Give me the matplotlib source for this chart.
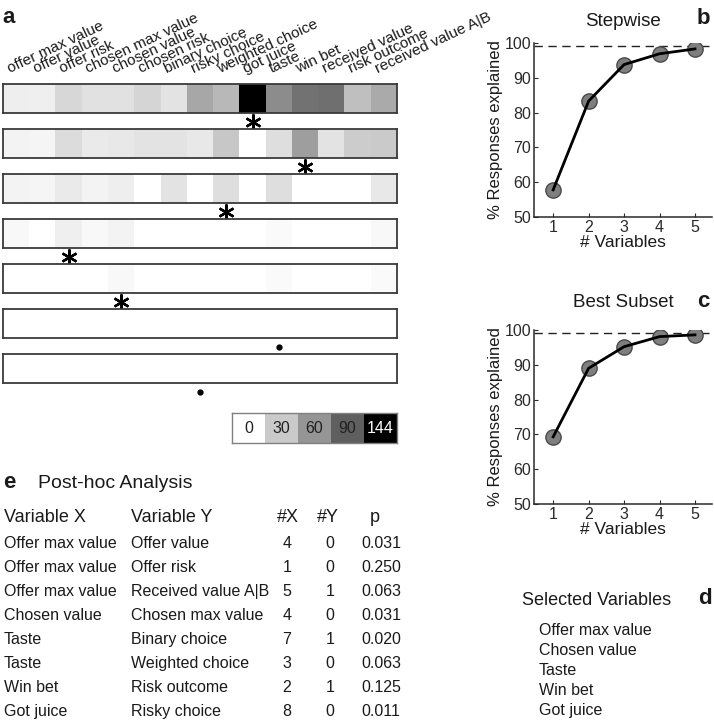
import matplotlib
matplotlib.use("Agg")
import matplotlib.pyplot as plt
import numpy as np

plt.rcParams['font.family'] = ['Liberation Sans', 'DejaVu Sans']

# ---------------- data ----------------
variables = ["offer max value", "offer value", "offer risk", "chosen max value",
             "chosen value", "chosen risk", "binary choice", "risky choice",
             "weighted choice", "got juice", "taste", "win bet",
             "received value", "risk outcome", "received value A|B"]

heat_row1 = [10, 9, 23, 17, 17, 24, 16, 50, 40, 144, 65, 79, 81, 36, 48]
heat_row2 = [7, 6, 20, 12, 13, 16, 16, 13, 32, 0, 19, 55, 16, 29, 30]
heat_row3 = [7, 6, 12, 7, 10, 0, 16, 0, 19, 0, 19, 0, 0, 0, 13]
heat_row4 = [4, 0, 9, 4, 7, 0, 0, 0, 0, 0, 3, 0, 0, 0, 4]
heat_row5 = [0, 0, 0, 0, 4, 0, 0, 0, 0, 0, 3, 0, 0, 0, 3]
heat_row6 = [0] * 15
heat_row7 = [0] * 15
heat_rows = [heat_row1, heat_row2, heat_row3, heat_row4, heat_row5, heat_row6, heat_row7]

# column index of the marker under each row; '*' = asterisk, '.' = dot
mark_cols = [9, 11, 8, 2, 4, 10, 7]
mark_types = ['*', '*', '*', '*', '*', '.', '.']

cbar_values = [0, 30, 60, 90, 144]

n_vars = [1, 2, 3, 4, 5]
stepwise = [57.8, 83.3, 93.8, 96.9, 98.3]
best_subset = [69.3, 89.0, 95.2, 98.1, 98.6]
ceiling = 99

selected = ["Offer max value", "Chosen value", "Taste", "Win bet", "Got juice"]

post_var_x = ["Offer max value", "Offer max value", "Offer max value", "Chosen value",
              "Taste", "Taste", "Win bet", "Got juice"]
post_var_y = ["Offer value", "Offer risk", "Received value A|B", "Chosen max value",
              "Binary choice", "Weighted choice", "Risk outcome", "Risky choice"]
post_nx = [4, 1, 5, 4, 7, 3, 2, 8]
post_ny = [0, 0, 1, 0, 1, 0, 1, 0]
post_p = ["0.031", "0.250", "0.063", "0.031", "0.020", "0.063", "0.125", "0.011"]

# ---------------- figure ----------------
W, H = 714, 720
fig = plt.figure(figsize=(W / 100, H / 100), dpi=100)

def add_ax(x0, y0, w, h):
    return fig.add_axes([x0 / W, 1 - (y0 + h) / H, w / W, h / H])

def ftext(x, y, s, **kw):
    return fig.text(x / W, 1 - y / H, s, **kw)

TXT = '#1a1a1a'

# ---- panel a: heat rows ----
row_x0, row_w = 3, 394
row_y0, row_h, row_dy = 84, 29, 45
for i, vals in enumerate(heat_rows):
    ax = add_ax(row_x0, row_y0 + i * row_dy, row_w, row_h)
    ax.imshow(np.array([vals]), cmap='gray_r', vmin=0, vmax=144, aspect='auto',
              interpolation='nearest')
    ax.set_xticks([])
    ax.set_yticks([])
    for sp in ax.spines.values():
        sp.set_color('#3a3a3a')
        sp.set_linewidth(1.3)
    my = 0.5 + 8.5 / row_h
    if mark_types[i] == '*':
        ax.plot([mark_cols[i]], [my], marker=(6, 2, 0), ms=11.5, mew=1.7,
                color='k', clip_on=False, linestyle='none')
    else:
        ax.plot([mark_cols[i]], [my], marker='o', ms=3.5, color='k',
                clip_on=False, linestyle='none')
    ax.set_xlim(-0.5, len(vals) - 0.5)
    ax.set_ylim(0.5, -0.5)
    if i == 0:
        for j, lab in enumerate(variables):
            ax.text(j - 0.25, -0.5 - 11 / row_h, lab, rotation=25,
                    rotation_mode='anchor', ha='left', va='baseline',
                    fontsize=11, color=TXT, clip_on=False)

# colour key
cax = add_ax(232, 413, 165, 30)
cax.imshow(np.array([cbar_values]), cmap='gray_r', vmin=0, vmax=144,
           aspect='auto', interpolation='nearest')
cax.set_xticks([])
cax.set_yticks([])
for sp in cax.spines.values():
    sp.set_color('#808080')
    sp.set_linewidth(1.0)
for j, v in enumerate(cbar_values):
    cax.text(j, 0.02, str(v), ha='center', va='center', fontsize=11.5,
             color='white' if v > 100 else '#222222')

ftext(2, 23, 'a', fontsize=16, fontweight='bold', color=TXT)

# ---- panels b & c ----
def line_panel(y_top, values, title, title_y, letter, letter_y):
    ax = add_ax(534, y_top, 178, 174)
    ax.plot(n_vars, values, 'o', ms=11, mfc='#7f7f7f', mec='#4a4a4a', mew=1.0,
            zorder=2)
    ax.plot(n_vars, values, '-', color='k', lw=2, zorder=3)
    ax.axhline(ceiling, color='#222222', lw=1, ls=(0, (6, 4)), zorder=1)
    ax.set_xlim(0.46, 5.48)
    ax.set_ylim(50, 100)
    ax.set_xticks(n_vars)
    ax.set_yticks([50, 60, 70, 80, 90, 100])
    for s in ['top', 'right']:
        ax.spines[s].set_visible(False)
    for s in ['left', 'bottom']:
        ax.spines[s].set_color('#2a2a2a')
        ax.spines[s].set_linewidth(1.1)
    ax.tick_params(direction='in', length=3, labelsize=11.5, colors='#2a2a2a',
                   pad=2)
    ax.set_xlabel('# Variables', fontsize=12.5, color=TXT, labelpad=0)
    ax.set_ylabel('% Responses explained', fontsize=12, color=TXT, labelpad=1)
    ftext(623, title_y, title, fontsize=13.5, color=TXT, ha='center', va='baseline')
    ftext(697, letter_y, letter, fontsize=16, fontweight='bold', color=TXT,
          va='baseline')
    return ax

line_panel(43, stepwise, 'Stepwise', 26, 'b', 24)
line_panel(330, best_subset, 'Best Subset', 307, 'c', 307)

# ---- panel d ----
ftext(522, 605, 'Selected Variables', fontsize=13, color=TXT, va='baseline')
ftext(698, 604, 'd', fontsize=16, fontweight='bold', color=TXT, va='baseline')
for k, s in enumerate(selected):
    ftext(539, 635 + 20 * k, s, fontsize=11.5, color=TXT, va='baseline')

# ---- panel e ----
ftext(3, 488, 'e', fontsize=16, fontweight='bold', color=TXT, va='baseline')
ftext(38, 488, 'Post-hoc Analysis', fontsize=14, color=TXT, va='baseline')
hdr_y = 522
ftext(4, hdr_y, 'Variable X', fontsize=13, color=TXT, va='baseline')
ftext(131, hdr_y, 'Variable Y', fontsize=13, color=TXT, va='baseline')
ftext(277, hdr_y, '#X', fontsize=13, color=TXT, va='baseline')
ftext(317, hdr_y, '#Y', fontsize=13, color=TXT, va='baseline')
ftext(370, hdr_y, 'p', fontsize=13, color=TXT, va='baseline')
for k in range(len(post_var_x)):
    y = 548 + 24 * k
    ftext(4, y, post_var_x[k], fontsize=11.5, color=TXT, va='baseline')
    ftext(131, y, post_var_y[k], fontsize=11.5, color=TXT, va='baseline')
    ftext(287, y, str(post_nx[k]), fontsize=11.5, color=TXT, va='baseline', ha='center')
    ftext(330, y, str(post_ny[k]), fontsize=11.5, color=TXT, va='baseline', ha='center')
    ftext(361, y, post_p[k], fontsize=11.5, color=TXT, va='baseline')

fig.savefig('out.png', dpi=100)
